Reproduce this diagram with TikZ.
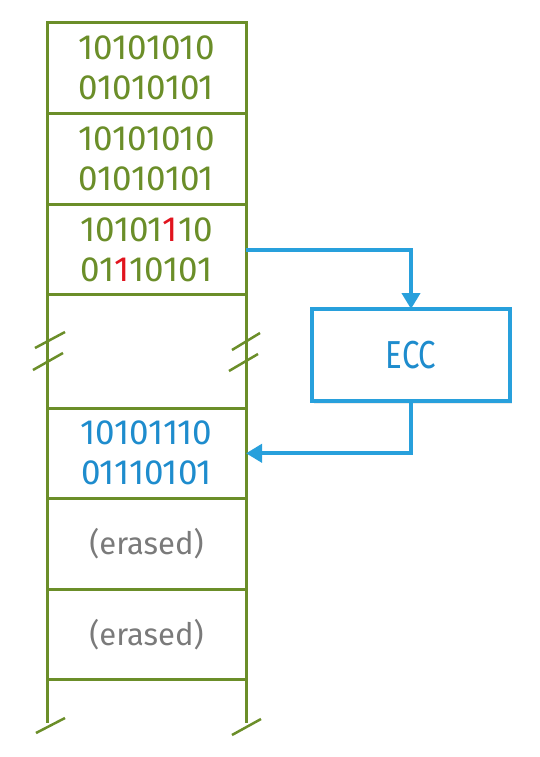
\documentclass[tikz,border=0pt]{standalone}
\usepackage{fontspec}
\setmainfont{Fira Sans}
\usepackage{graphicx}
\usetikzlibrary{arrows.meta,shadows}
\definecolor{cgreen}{RGB}{107,142,41}
\definecolor{cblue}{RGB}{40,160,220}
\definecolor{ctblue}{RGB}{30,140,205}
\definecolor{cgray}{RGB}{122,122,122}
\definecolor{cred}{RGB}{225,20,30}
\begin{document}
\begin{tikzpicture}[x=1pt,y=1pt,
  cell/.style={draw=cgreen,line width=3pt,minimum width=199pt,minimum height=90.6pt,
    inner sep=0pt,outer sep=0pt,align=center,font=\fontsize{35}{40}\selectfont},
  erased/.style={cell,text=cgray,font=\fontsize{31}{40}\selectfont},
  gline/.style={draw=cgreen,line width=3pt},
  brk/.style={draw=cgreen,line width=2.5pt},
  eccbox/.style={draw=cblue,line width=4pt,fill=white,minimum width=198pt,minimum height=92pt,
    inner sep=0pt,outer sep=0pt,font=\fontsize{39}{40}\selectfont,text=ctblue,
    drop shadow={opacity=0.15,shadow xshift=2pt,shadow yshift=-3pt}},
  flow/.style={draw=cblue,line width=4pt,-{Triangle[width=18pt,length=16pt]}}]
\useasboundingbox (0,0) rectangle (540,-757);
% upper cells
\node[cell,text=cgreen] (c1) at (146.5,-68.3) {10101010\\01010101};
\node[cell,text=cgreen,anchor=north] (c2) at (c1.south) {10101010\\01010101};
\node[cell,text=cgreen,anchor=north] (c3) at (c2.south) {10101{\color{cred}1}10\\01{\color{cred}1}10101};
% lower cells
\node[cell,text=ctblue] (c4) at (146.5,-453.3) {10101110\\01110101};
\node[erased,anchor=north] (c5) at (c4.south) {(erased)};
\node[erased,anchor=north] (c6) at (c5.south) {(erased)};
% side lines between
\draw[gline] (c3.south west) -- (c4.north west);
\draw[gline] (c3.south east) -- (c4.north east);
\coordinate (bl) at (47,-723);
\coordinate (br) at (246,-723);
\draw[gline] (c6.south west) -- (bl);
\draw[gline] (c6.south east) -- (br);
% break marks
\draw[brk] (35,-348) -- (65,-332);
\draw[brk] (33,-370) -- (63,-353);
\draw[brk] (232,-350) -- (260,-333);
\draw[brk] (229,-371) -- (258,-354);
\draw[brk] (36,-733) -- (65,-718);
\draw[brk] (232,-735) -- (261,-719);
% ECC
\node[eccbox] (ecc) at (411,-355) {\scalebox{0.8}[1]{ECC}};
\draw[flow] (c3.east) -| (ecc.north);
\draw[flow] (ecc.south) |- (c4.east);
\end{tikzpicture}
\end{document}
